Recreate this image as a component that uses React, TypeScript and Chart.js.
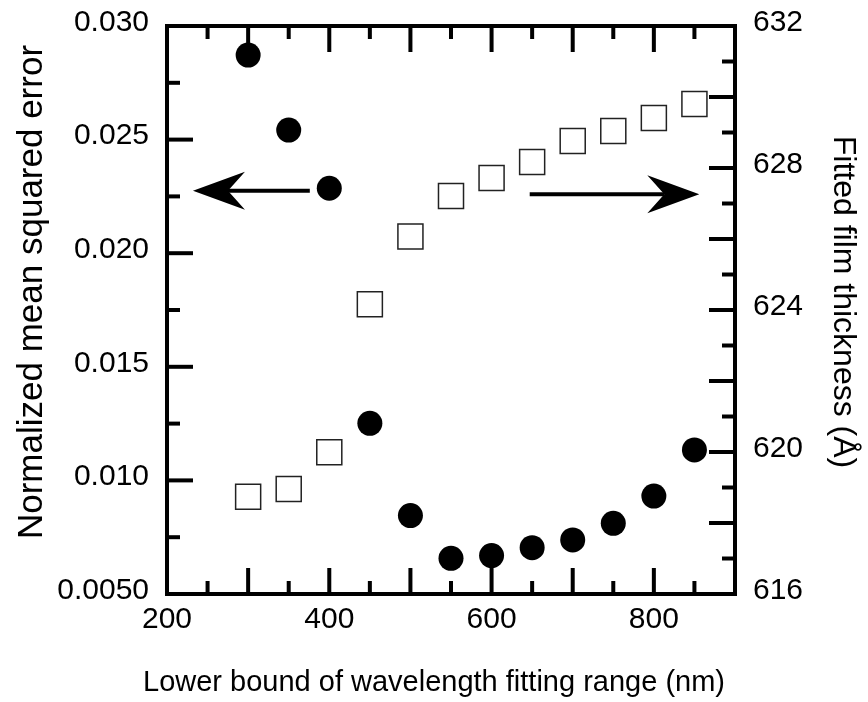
import React, { useEffect, useRef } from "react";
import { Chart, registerables } from "chart.js";

Chart.register(...registerables);

// ---- data ----
const wavelengths = [300, 350, 400, 450, 500, 550, 600, 650, 700, 750, 800, 850];
const mseValues = [0.02872, 0.02542, 0.02286, 0.01251, 0.00845, 0.00657, 0.00669, 0.00704, 0.00738, 0.00811, 0.00931, 0.01134];
const thicknessValues = [618.74, 618.96, 619.99, 624.16, 626.07, 627.21, 627.72, 628.17, 628.76, 629.04, 629.41, 629.8];

// ---- ticks ----
const xTickValues = [200, 400, 600, 800];
const xTickLabels = ["200", "400", "600", "800"];
const leftTickValues = [0.005, 0.01, 0.015, 0.02, 0.025, 0.03];
const leftTickLabels = ["0.0050", "0.010", "0.015", "0.020", "0.025", "0.030"];
const rightTickValues = [616, 620, 624, 628, 632];
const rightTickLabels = ["616", "620", "624", "628", "632"];
const xMinorStep = [50];
const leftMinorStep = [0.0025];
const rightMinorStep = [1];

// ---- titles ----
const xTitle = "Lower bound of wavelength fitting range (nm)";
const leftTitle = "Normalized mean squared error";
const rightTitle = "Fitted film thickness (Å)";

// ---- arrow annotations (data coords, left axis) ----
const arrowFromX = [376, 647];
const arrowToX = [232, 856];
const arrowY = [0.02275, 0.0226];

const FONT = "'Liberation Sans', Arial, Helvetica, sans-serif";

const frameTicksPlugin = {
  id: "frameTicks",
  afterDatasetsDraw(chart: any) {
    const { ctx, chartArea } = chart;
    const { left, right, top, bottom } = chartArea;
    const xs = chart.scales.x;
    const ys = chart.scales.y;
    const y1 = chart.scales.y1;
    const MAJ = 26;
    const MIN = 13;
    ctx.save();
    ctx.strokeStyle = "#000";
    ctx.fillStyle = "#000";
    ctx.lineWidth = 4;
    ctx.lineCap = "butt";
    // x ticks (top & bottom)
    const xStep = xMinorStep[0];
    for (let k = 1; xs.min + k * xStep < xs.max - 1e-9; k++) {
      const v = xs.min + k * xStep;
      const len = k % 2 === 0 ? MAJ : MIN;
      const px = xs.getPixelForValue(v);
      ctx.beginPath();
      ctx.moveTo(px, bottom);
      ctx.lineTo(px, bottom - len);
      ctx.moveTo(px, top);
      ctx.lineTo(px, top + len);
      ctx.stroke();
    }
    // left ticks
    const lStep = leftMinorStep[0];
    for (let k = 1; ys.min + k * lStep < ys.max - 1e-9; k++) {
      const v = ys.min + k * lStep;
      const len = k % 2 === 0 ? MAJ : MIN;
      const py = ys.getPixelForValue(v);
      ctx.beginPath();
      ctx.moveTo(left, py);
      ctx.lineTo(left + len, py);
      ctx.stroke();
    }
    // right ticks
    const rStep = rightMinorStep[0];
    for (let k = 1; y1.min + k * rStep < y1.max - 1e-9; k++) {
      const v = y1.min + k * rStep;
      const len = k % 2 === 0 ? MAJ : MIN;
      const py = y1.getPixelForValue(v);
      ctx.beginPath();
      ctx.moveTo(right, py);
      ctx.lineTo(right - len, py);
      ctx.stroke();
    }
    // frame
    ctx.lineJoin = "miter";
    ctx.strokeRect(left, top, right - left, bottom - top);

    // arrows
    const HEAD = 52;
    const HALF = 19;
    const NOTCH = 35;
    for (let i = 0; i < arrowFromX.length; i++) {
      const x1 = xs.getPixelForValue(arrowFromX[i]);
      const x2 = xs.getPixelForValue(arrowToX[i]);
      const y = ys.getPixelForValue(arrowY[i]);
      const dir = x2 > x1 ? 1 : -1;
      ctx.beginPath();
      ctx.moveTo(x1, y);
      ctx.lineTo(x2 - dir * NOTCH, y);
      ctx.stroke();
      ctx.beginPath();
      ctx.moveTo(x2, y);
      ctx.lineTo(x2 - dir * HEAD, y - HALF);
      ctx.lineTo(x2 - dir * NOTCH, y);
      ctx.lineTo(x2 - dir * HEAD, y + HALF);
      ctx.closePath();
      ctx.fill();
    }

    // axis titles
    const W = chart.width;
    ctx.textAlign = "center";
    ctx.textBaseline = "middle";
    ctx.font = `29px ${FONT}`;
    ctx.fillText(xTitle, W / 2, 683);

    ctx.save();
    ctx.translate(32, 292);
    ctx.rotate(-Math.PI / 2);
    ctx.font = `35px ${FONT}`;
    ctx.fillText(leftTitle, 0, 0);
    ctx.restore();

    ctx.save();
    ctx.translate(843, 302);
    ctx.rotate(Math.PI / 2);
    ctx.font = `32px ${FONT}`;
    ctx.fillText(rightTitle, 0, 0);
    ctx.restore();

    ctx.restore();
  },
};

export default function App() {
  const ref = useRef<HTMLCanvasElement>(null);
  useEffect(() => {
    document.body.style.margin = "0";
    const canvas = ref.current;
    if (!canvas) return;
    const chart = new Chart(canvas, {
      type: "scatter",
      data: {
        datasets: [
          {
            label: "Normalized mean squared error",
            data: wavelengths.map((x, i) => ({ x, y: mseValues[i] })),
            yAxisID: "y",
            pointStyle: "circle",
            pointRadius: 12.5,
            pointHoverRadius: 12.5,
            backgroundColor: "#000",
            borderColor: "#000",
            borderWidth: 0,
            showLine: false,
            clip: false,
          } as any,
          {
            label: "Fitted film thickness",
            data: wavelengths.map((x, i) => ({ x, y: thicknessValues[i] })),
            yAxisID: "y1",
            pointStyle: "rect",
            pointRadius: 17.7,
            pointHoverRadius: 17.7,
            backgroundColor: "rgba(255,255,255,0)",
            borderColor: "#222",
            borderWidth: 1.5,
            showLine: false,
            clip: false,
          } as any,
        ],
      },
      options: {
        responsive: false,
        animation: false,
        devicePixelRatio: 1,
        layout: { padding: { top: 26, left: 0, right: 0, bottom: 0 } },
        plugins: {
          legend: { display: false },
          tooltip: { enabled: false },
        },
        events: [],
        scales: {
          x: {
            type: "linear",
            position: "bottom",
            min: 200,
            max: 900,
            grid: { display: false, drawTicks: false },
            border: { display: false },
            afterBuildTicks: (s: any) => {
              s.ticks = xTickValues.map((value) => ({ value }));
            },
            afterFit: (s: any) => {
              s.height = 108;
              s.paddingLeft = 0;
              s.paddingRight = 0;
            },
            ticks: {
              autoSkip: false,
              maxRotation: 0,
              minRotation: 0,
              padding: 8,
              color: "#000",
              font: { size: 30, family: FONT },
              callback: (_v: any, i: number) => xTickLabels[i],
            },
            title: { display: false },
          },
          y: {
            type: "linear",
            position: "left",
            min: 0.005,
            max: 0.03,
            grid: { display: false, drawTicks: false },
            border: { display: false },
            afterBuildTicks: (s: any) => {
              s.ticks = leftTickValues.map((value) => ({ value }));
            },
            afterFit: (s: any) => {
              s.width = 167;
              s.paddingTop = 0;
              s.paddingBottom = 0;
            },
            ticks: {
              autoSkip: false,
              padding: 18,
              labelOffset: -3.5,
              color: "#000",
              font: { size: 30, family: FONT },
              callback: (_v: any, i: number) => leftTickLabels[i],
            },
            title: { display: false },
          },
          y1: {
            type: "linear",
            position: "right",
            min: 616,
            max: 632,
            grid: { display: false, drawTicks: false },
            border: { display: false },
            afterBuildTicks: (s: any) => {
              s.ticks = rightTickValues.map((value) => ({ value }));
            },
            afterFit: (s: any) => {
              s.width = 133;
              s.paddingTop = 0;
              s.paddingBottom = 0;
            },
            ticks: {
              autoSkip: false,
              padding: 18,
              labelOffset: -3.5,
              color: "#000",
              font: { size: 30, family: FONT },
              callback: (_v: any, i: number) => rightTickLabels[i],
            },
            title: { display: false },
          },
        },
      } as any,
      plugins: [frameTicksPlugin],
    });
    return () => chart.destroy();
  }, []);
  return (
    <div style={{ width: 868, height: 702 }}>
      <canvas ref={ref} width={868} height={702} style={{ display: "block" }} />
    </div>
  );
}
